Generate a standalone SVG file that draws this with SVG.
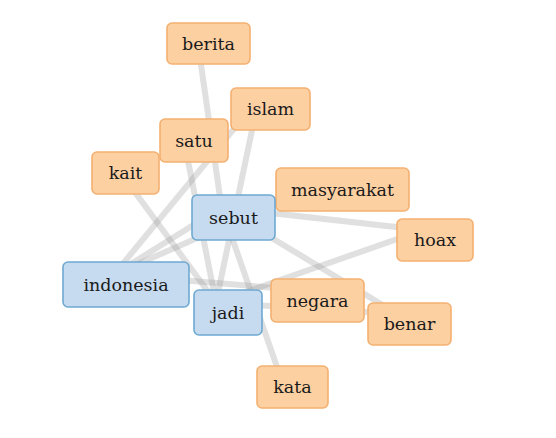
<svg xmlns="http://www.w3.org/2000/svg" width="556" height="438" viewBox="0 0 556 438">
<style>
.e{stroke:#999;stroke-opacity:0.3;stroke-width:6;fill:none}
.o rect{fill:#fdd0a2;stroke:#f4b070;stroke-width:1.6}
.b rect{fill:#c6dbef;stroke:#6ea9d2;stroke-width:1.6}
text{font-family:"DejaVu Serif",serif;font-size:17.5px;fill:#1a1a1a;text-anchor:middle}
</style>
<rect width="556" height="438" fill="#fff"/>
<g id="edges">
<line class="e" x1="196.5" y1="33.5" x2="221.5" y2="207.5"/>
<line class="e" x1="258.5" y1="99" x2="216" y2="302.5"/>
<line class="e" x1="258.5" y1="99" x2="114" y2="274.5"/>
<line class="e" x1="182" y1="130.5" x2="216" y2="302.5"/>
<line class="e" x1="113.5" y1="163" x2="216" y2="302.5"/>
<line class="e" x1="221.5" y1="207.5" x2="114" y2="274.5"/>
<line class="e" x1="330.5" y1="179.5" x2="114" y2="274.5"/>
<line class="e" x1="221.5" y1="207.5" x2="423" y2="230"/>
<line class="e" x1="221.5" y1="207.5" x2="397.5" y2="314"/>
<line class="e" x1="423" y1="230" x2="216" y2="302.5"/>
<line class="e" x1="114" y1="274.5" x2="305.5" y2="290.5"/>
<line class="e" x1="216" y1="302.5" x2="397.5" y2="314"/>
<line class="e" x1="221.5" y1="207.5" x2="280.5" y2="377"/>
</g>
<g id="berita" class="o"><rect x="167" y="23" width="83" height="41" rx="5"/><text x="208.5" y="49.5">berita</text></g>
<g id="islam" class="o"><rect x="231" y="88" width="79" height="42" rx="5"/><text x="270.5" y="115">islam</text></g>
<g id="satu" class="o"><rect x="160" y="119" width="68" height="43" rx="5"/><text x="194" y="146.5">satu</text></g>
<g id="kait" class="o"><rect x="92" y="152" width="67" height="42" rx="5"/><text x="125.5" y="179">kait</text></g>
<g id="masyarakat" class="o"><rect x="276" y="168" width="133" height="43" rx="5"/><text x="342.5" y="195.5">masyarakat</text></g>
<g id="hoax" class="o"><rect x="397" y="219" width="76" height="42" rx="5"/><text x="435" y="246">hoax</text></g>
<g id="negara" class="o"><rect x="271" y="279" width="93" height="43" rx="5"/><text x="317.5" y="306.5">negara</text></g>
<g id="benar" class="o"><rect x="368" y="303" width="83" height="42" rx="5"/><text x="409.5" y="330">benar</text></g>
<g id="kata" class="o"><rect x="257" y="366" width="71" height="42" rx="5"/><text x="292.5" y="393">kata</text></g>
<g id="sebut" class="b"><rect x="192" y="195" width="83" height="45" rx="5"/><text x="233.5" y="223.5">sebut</text></g>
<g id="indonesia" class="b"><rect x="63" y="262" width="126" height="45" rx="5"/><text x="126" y="290.5">indonesia</text></g>
<g id="jadi" class="b"><rect x="194" y="290" width="68" height="45" rx="5"/><text x="228" y="318.5">jadi</text></g>
</svg>
